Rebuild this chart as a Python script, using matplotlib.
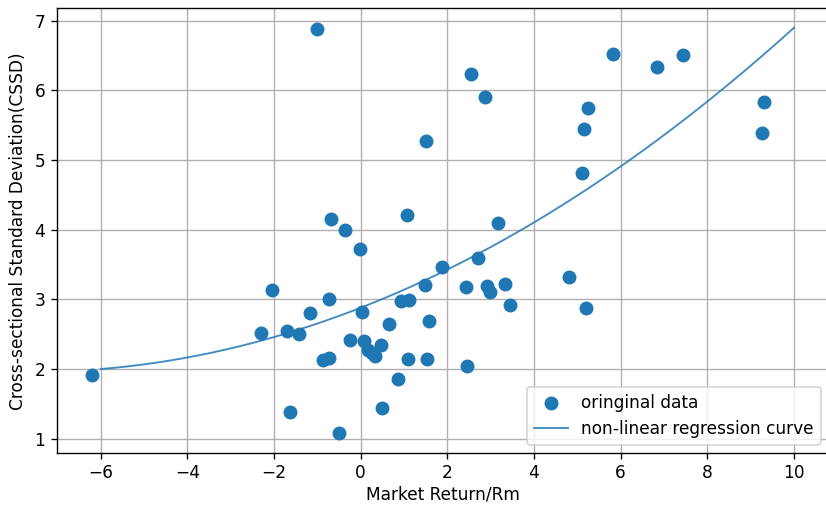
import numpy as np
import matplotlib.pyplot as plt

# market return vs. cross-sectional standard deviation
rm = [-6.20, -2.29, -2.04, -1.71, -1.63, -1.42, -1.16, -1.00, -0.87, -0.74,
      -0.74, -0.68, -0.51, -0.37, -0.25, -0.02, 0.02, 0.07, 0.17, 0.27,
      0.32, 0.48, 0.49, 0.65, 0.85, 0.93, 1.08, 1.12, 1.10, 1.48,
      1.51, 1.52, 1.57, 1.87, 2.42, 2.45, 2.54, 2.71, 2.88, 2.91,
      2.98, 3.17, 3.34, 3.44, 4.81, 5.12, 5.15, 5.21, 5.24, 5.82,
      6.85, 7.45, 9.27, 9.32]
cssd = [1.92, 2.52, 3.14, 2.54, 1.38, 2.51, 2.80, 6.88, 2.13, 2.16,
        3.01, 4.16, 1.08, 4.00, 2.42, 3.73, 2.82, 2.40, 2.27, 2.23,
        2.19, 2.35, 1.44, 2.65, 1.85, 2.97, 4.21, 2.99, 2.14, 3.20,
        5.27, 2.14, 2.69, 3.47, 3.18, 2.04, 6.23, 3.60, 5.90, 3.19,
        3.10, 4.10, 3.22, 2.92, 3.32, 4.82, 5.45, 2.87, 5.75, 6.53,
        6.33, 6.51, 5.39, 5.84]

# fitted coefficients: cssd = a*rm^2 + b*rm + c
coef = [0.01596, 0.2424, 2.88]
fit_range = (-6, 10)

dpi = 122
fig = plt.figure(figsize=(826 / dpi, 506 / dpi), dpi=dpi)
ax = fig.add_axes([57 / 826, 1 - 453.3 / 506, 772 / 826, 445 / 506])

ax.scatter(rm, cssd, s=52, color="C0", label="oringinal data", zorder=3)
xs = np.linspace(fit_range[0], fit_range[1], 200)
ax.plot(xs, np.polyval(coef, xs), color="C0", lw=1.1, alpha=0.85,
        label="non-linear regression curve", zorder=2)

ax.set_xlim(-7.01, 10.81)
ax.set_ylim(0.79, 7.18)
ax.set_xticks(range(-6, 11, 2))
ax.tick_params(axis="x", pad=3)
ax.grid(True, color="#b0b0b0", lw=0.8)
ax.set_axisbelow(True)
ax.set_xlabel("Market Return/Rm", labelpad=2)
ax.set_ylabel("Cross-sectional Standard Deviation(CSSD)")
ax.legend(loc="lower right")

fig.savefig("out.png", dpi=dpi)
